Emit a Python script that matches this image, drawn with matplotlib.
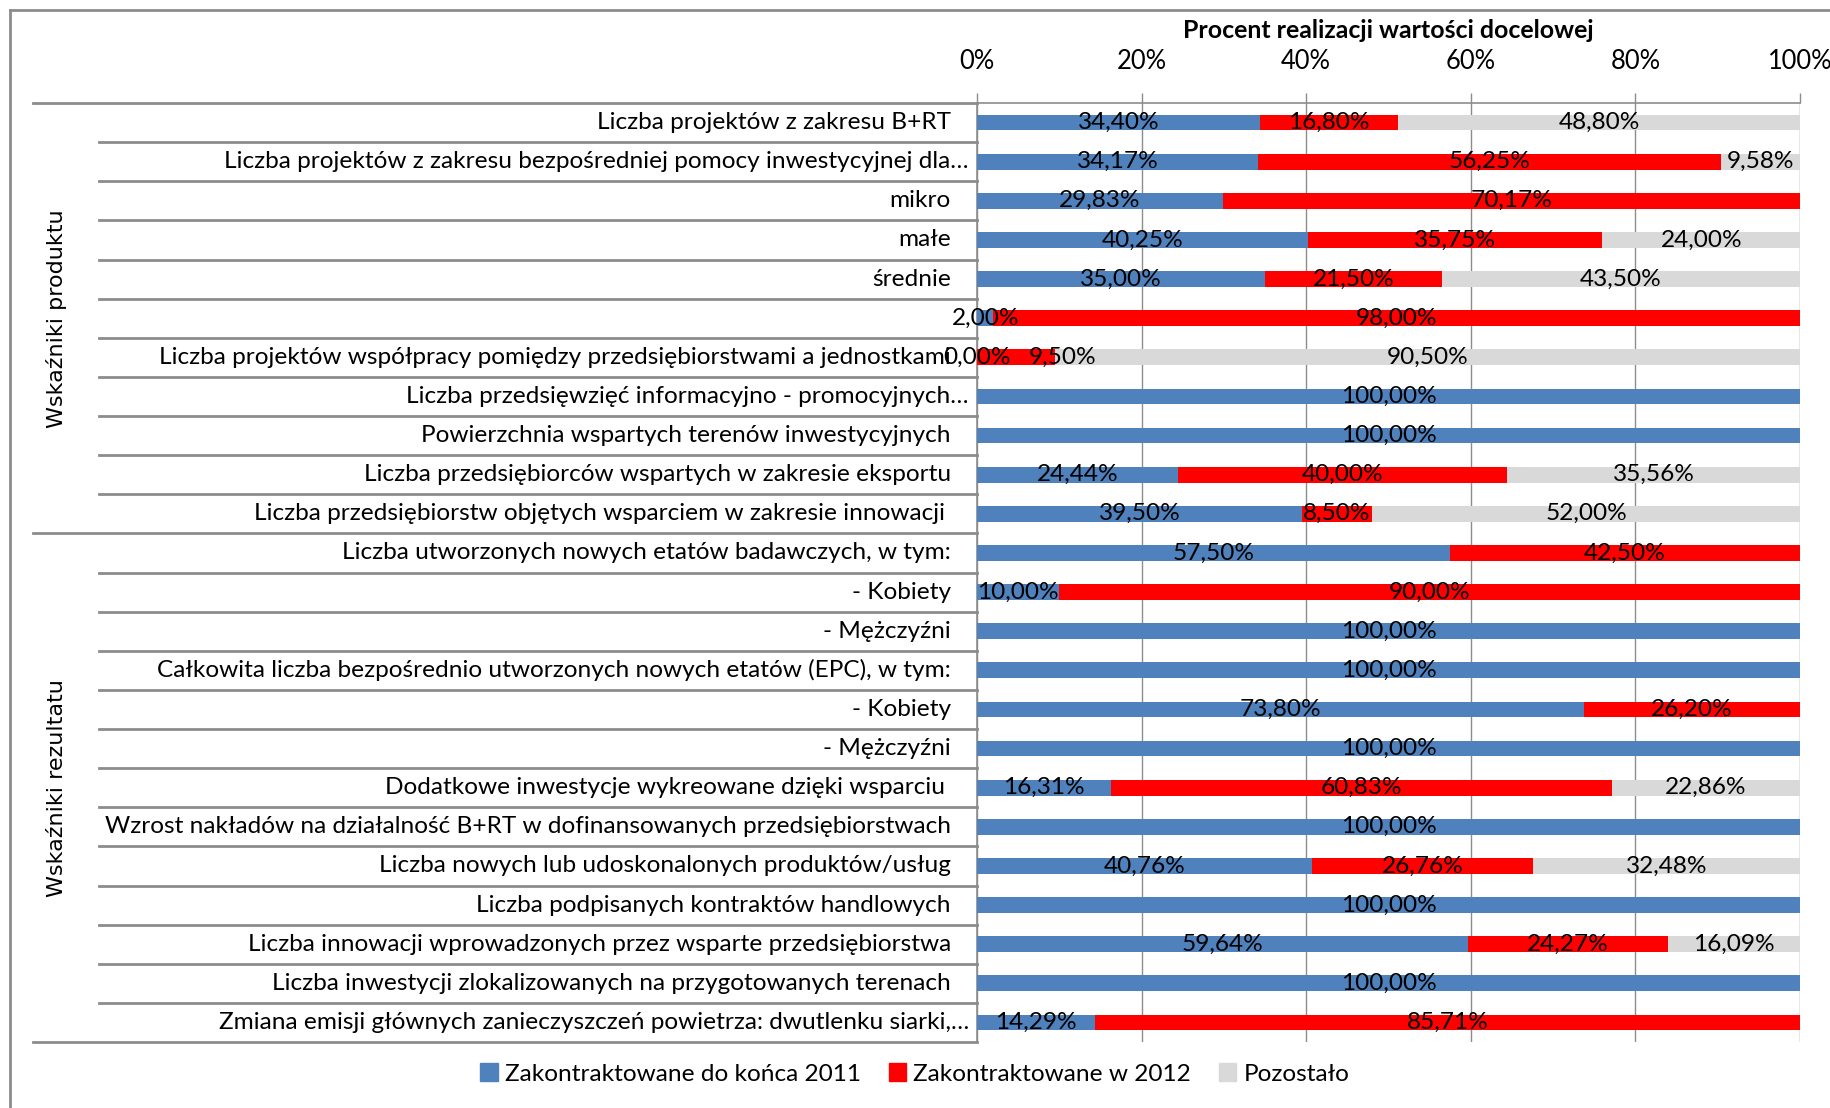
import matplotlib
matplotlib.use("Agg")
import matplotlib.pyplot as plt
from matplotlib.lines import Line2D
from matplotlib.patches import Patch

# Row labels (top to bottom)
labels = [
    "Liczba projektów z zakresu B+RT",
    "Liczba projektów z zakresu bezpośredniej pomocy inwestycyjnej dla…",
    "mikro",
    "małe",
    "średnie",
    "",
    "Liczba projektów współpracy pomiędzy przedsiębiorstwami a jednostkami",
    "Liczba przedsięwzięć informacyjno - promocyjnych…",
    "Powierzchnia wspartych terenów inwestycyjnych",
    "Liczba przedsiębiorców wspartych w zakresie eksportu",
    "Liczba przedsiębiorstw objętych wsparciem w zakresie innowacji ",
    "Liczba utworzonych nowych etatów badawczych, w tym:",
    "- Kobiety",
    "- Mężczyźni",
    "Całkowita liczba bezpośrednio utworzonych nowych etatów (EPC), w tym:",
    "- Kobiety",
    "- Mężczyźni",
    "Dodatkowe inwestycje wykreowane dzięki wsparciu ",
    "Wzrost nakładów na działalność B+RT w dofinansowanych przedsiębiorstwach",
    "Liczba nowych lub udoskonalonych produktów/usług",
    "Liczba podpisanych kontraktów handlowych",
    "Liczba innowacji wprowadzonych przez wsparte przedsiębiorstwa",
    "Liczba inwestycji zlokalizowanych na przygotowanych terenach",
    "Zmiana emisji głównych zanieczyszczeń powietrza: dwutlenku siarki,…",
]

# None = segment not present (no label drawn)
do_2011 = [34.40, 34.17, 29.83, 40.25, 35.00, 2.00, 0.00, 100.00, 100.00, 24.44, 39.50,
           57.50, 10.00, 100.00, 100.00, 73.80, 100.00, 16.31, 100.00, 40.76, 100.00, 59.64, 100.00, 14.29]
w_2012 = [16.80, 56.25, 70.17, 35.75, 21.50, 98.00, 9.50, None, None, 40.00, 8.50,
          42.50, 90.00, None, None, 26.20, None, 60.83, None, 26.76, None, 24.27, None, 85.71]
pozostalo = [48.80, 9.58, None, 24.00, 43.50, None, 90.50, None, None, 35.56, 52.00,
             None, None, None, None, None, None, 22.86, None, 32.48, None, 16.09, None, None]

series_names = ["Zakontraktowane do końca 2011", "Zakontraktowane w 2012", "Pozostało"]
colors = ["#4F81BD", "#FF0000", "#D9D9D9"]
groups = [("Wskaźniki produktu", 0, 10), ("Wskaźniki rezultatu", 11, 23)]
xticks = [0, 20, 40, 60, 80, 100]

# label moved off its segment in the original (row, series) -> x position
moved_labels = {(6, 1): 10.4}

FONT = "Lato"
FS = 17.6
line_col = "#8C8C8C"

W, H = 1830, 1108
fig = plt.figure(figsize=(W / 100, H / 100), dpi=100)
ax = fig.add_axes([977 / W, 1 - 1042 / H, 823 / W, 939 / H])

n = len(labels)
ys = list(range(n))
left = [0.0] * n
for j, (vals, col) in enumerate(zip([do_2011, w_2012, pozostalo], colors)):
    v = [x if x is not None else 0 for x in vals]
    ax.barh(ys, v, left=left, height=0.4, color=col, zorder=3)
    for i, x in enumerate(vals):
        if x is None:
            continue
        txt = f"{x:.2f}".replace(".", ",") + "%"
        xpos = moved_labels.get((i, j), left[i] + x / 2)
        ax.text(xpos, i, txt, ha="center", va="center",
                fontsize=FS, family=FONT, color="black", zorder=5)
    left = [a + b for a, b in zip(left, v)]

ax.set_xlim(0, 100)
ax.set_ylim(n - 0.5, -0.5)
ax.set_yticks([])
ax.xaxis.tick_top()
ax.set_xticks(xticks)
ax.set_xticklabels([f"{t}%" for t in xticks], family=FONT, fontsize=18.4)
ax.tick_params(axis="x", direction="out", length=7, width=1, color=line_col, pad=14)
ax.grid(axis="x", color=line_col, lw=1, zorder=0)
for s in ["bottom", "right"]:
    ax.spines[s].set_visible(False)
for s in ["top", "left"]:
    ax.spines[s].set_color(line_col)
    ax.spines[s].set_linewidth(1.2)

# category labels to the left of the axis
for i, lab in enumerate(labels):
    xr = 969 if lab.endswith("…") else 951
    ax.text((xr - 977) / 823, i, lab, transform=ax.get_yaxis_transform(),
            ha="right", va="center", fontsize=FS, family=FONT)

# row separators in the label area
for k in range(n + 1):
    yb = k - 0.5
    x0 = 99
    if k == 0 or k == n or k == 11:
        x0 = 33
    ax.add_line(Line2D([(x0 - 977) / 823, 0], [yb, yb], transform=ax.get_yaxis_transform(),
                       color=line_col, lw=2, clip_on=False, zorder=1))

# group labels
for name, a, b in groups:
    ax.text((57 - 977) / 823, (a + b) / 2, name, transform=ax.get_yaxis_transform(),
            rotation=90, ha="center", va="center", fontsize=16, family="DejaVu Sans")

fig.text((977 + 1800) / 2 / W, 1 - 30 / H, "Procent realizacji wartości docelowej",
         ha="center", va="center", fontsize=17.9, family=FONT, weight="bold")

handles = [Patch(color=c) for c in colors]
fig.legend(handles, series_names, loc="center", bbox_to_anchor=(0.5, 1 - 1074 / H), ncol=3,
           frameon=False, prop={"family": FONT, "size": FS}, handlelength=0.7, handleheight=0.7,
           handletextpad=0.3, columnspacing=1.15)

# outer frame
fig.add_artist(Line2D([10 / W, 10 / W], [0, 1 - 10 / H], transform=fig.transFigure, color=line_col, lw=2))
fig.add_artist(Line2D([10 / W, 1], [1 - 10 / H, 1 - 10 / H], transform=fig.transFigure, color=line_col, lw=2))

fig.savefig("out.png", dpi=100)
